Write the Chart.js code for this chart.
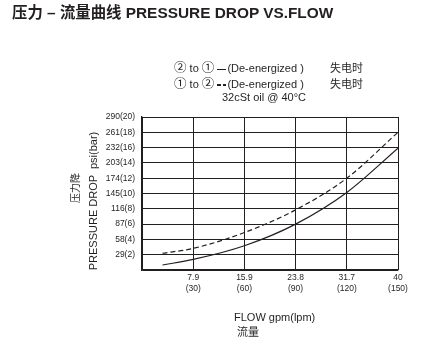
<!DOCTYPE html>
<html><head><meta charset="utf-8">
<script src="https://cdn.jsdelivr.net/npm/chart.js@4"></script>
<style>
html,body{margin:0;padding:0;background:#fff;}
#wrap{position:relative;width:422px;height:362px;overflow:hidden;font-family:"Liberation Sans","Noto Sans CJK SC",sans-serif;color:#231f20;}
canvas{position:absolute;left:0;top:0;}
.t{position:absolute;white-space:pre;line-height:1;}
.c{font-family:"Noto Sans CJK SC";font-size:12.5px;}
.ls{display:inline-block;width:9px;height:1px;background:#231f20;vertical-align:middle;margin-right:1px;}
.ld{display:inline-block;width:9px;height:2px;background:repeating-linear-gradient(90deg,#231f20 0 4px,transparent 4px 6px);vertical-align:middle;margin-right:1px;}
</style></head>
<body><div id="wrap">
<canvas id="c" width="422" height="362"></canvas>
<div class="t" style="left:12px;top:5px;font-size:15.4px;font-weight:bold;">压力 – 流量曲线 PRESSURE DROP VS.FLOW</div>
<div class="t" style="left:174px;top:61px;font-size:11px;"><span class="c">②</span> to <span class="c">①</span> <span class="ls"></span>(De-energized )</div>
<div class="t" style="left:330px;top:62px;font-size:11px;font-family:'Noto Sans CJK SC';">失电时</div>
<div class="t" style="left:174px;top:77px;font-size:11px;"><span class="c">①</span> to <span class="c">②</span> <span class="ld"></span>(De-energized )</div>
<div class="t" style="left:330px;top:78px;font-size:11px;font-family:'Noto Sans CJK SC';">失电时</div>
<div class="t" style="left:222px;top:92px;font-size:11px;">32cSt oil @ 40°C</div>
<div class="t" style="left:93px;top:201px;font-size:11px;transform:translate(-50%,-50%) rotate(-90deg);">PRESSURE DROP  psi(bar)</div>
<div class="t" style="left:75px;top:188px;font-size:10px;font-family:'Noto Sans CJK SC';transform:translate(-50%,-50%) rotate(-90deg);">压力降</div>
<div class="t" style="left:234px;top:312px;font-size:11px;">FLOW gpm(lpm)</div>
<div class="t" style="left:237px;top:326px;font-size:11px;font-family:'Noto Sans CJK SC';">流量</div>
</div>
<script>
const flowLpm = [12, 30, 60, 90, 120, 150];
const solidPsi = [9.5, 20, 46, 87, 147, 231];
const dashedPsi = [31.7, 41, 71, 114, 174, 261];
const xTickGpm = ['7.9', '15.9', '23.8', '31.7', '40'];
const xTickLpm = ['(30)', '(60)', '(90)', '(120)', '(150)'];
const yTickLabels = ['29(2)', '58(4)', '87(6)', '116(8)', '145(10)', '174(12)', '203(14)', '232(16)', '261(18)', '290(20)'];

const toPts = (ys) => flowLpm.map((x, i) => ({x: x, y: ys[i]}));
const tickFont = {family: 'Liberation Sans', size: 8.5};
new Chart(document.getElementById('c'), {
  type: 'line',
  data: {datasets: [
    {data: toPts(solidPsi), borderColor: '#231f20', borderWidth: 1.2, pointRadius: 0, cubicInterpolationMode: 'monotone', fill: false},
    {data: toPts(dashedPsi), borderColor: '#231f20', borderWidth: 1.2, borderDash: [5, 3], pointRadius: 0, cubicInterpolationMode: 'monotone', fill: false}
  ]},
  options: {
    responsive: false, animation: false, devicePixelRatio: 1,
    layout: {padding: {left: 0, top: 117, right: 24, bottom: 0}},
    plugins: {legend: {display: false}, tooltip: {enabled: false}},
    scales: {
      x: {type: 'linear', min: 0, max: 150,
        ticks: {stepSize: 30, padding: 3, color: '#231f20', font: tickFont, maxRotation: 0,
          callback: (v) => { const i = v / 30 - 1; return i >= 0 ? [xTickGpm[i], xTickLpm[i]] : ''; }},
        grid: {color: '#231f20', lineWidth: 1, drawTicks: false},
        border: {color: '#231f20', width: 1.3},
        afterFit: (s) => { s.height = 92; }
      },
      y: {min: 0, max: 290,
        ticks: {stepSize: 29, padding: 7, color: '#231f20', font: tickFont,
          callback: (v) => { const i = Math.round(v / 29) - 1; return i >= 0 ? yTickLabels[i] : ''; }},
        grid: {color: '#231f20', lineWidth: 1, drawTicks: false},
        border: {color: '#231f20', width: 1.3},
        afterFit: (s) => { s.width = 142; }
      }
    }
  }
});
</script>
</body></html>
